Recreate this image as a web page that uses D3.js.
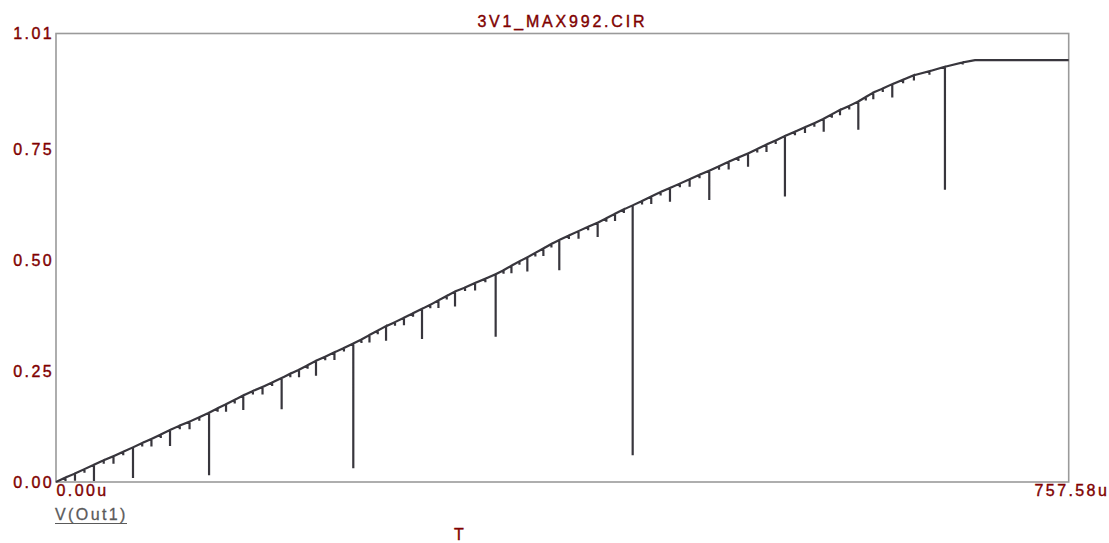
<!DOCTYPE html>
<html>
<head>
<meta charset="utf-8">
<script src="https://cdn.jsdelivr.net/npm/d3@7"></script>
<style>
  body { margin: 0; background: #fff; }
  svg { display: block; }
  text { font-family: "Liberation Sans", Arial, sans-serif; }
</style>
</head>
<body>
<svg id="chart"></svg>
<script>
const title = "3V1_MAX992.CIR";
const traceName = "V(Out1)";
const xAxisName = "T";

// axis ranges and tick labels
const timeDomain = [0, 757.58];
const voltDomain = [0, 1.01];
const yTicks = [0, 0.25, 0.5, 0.75, 1.01];
const yTickLabels = ["0.00", "0.25", "0.50", "0.75", "1.01"];
const xTicks = [0, 757.58];
const xTickLabels = ["0.00u", "757.58u"];

// ramp start and the flat part at the end (us, V)
const rampTime = [0, 687.5, 757.58];
const rampLevel = [0, 0.95, 0.95];

// glitches at the code transitions: time (us), level before the spike, bottom of the spike
const glitchTime = [
  7.1, 14.2, 21.3, 28.4, 35.7, 43.0, 50.3, 57.6, 64.5, 71.4,
  78.4, 85.3, 92.6, 99.9, 107.2, 114.5, 120.9, 127.2, 133.7, 140.1,
  147.3, 154.5, 161.7, 168.8, 175.3, 181.8, 188.2, 194.5, 201.4, 208.3,
  215.4, 222.4, 228.5, 234.5, 240.7, 246.9, 253.6, 260.3, 267.1, 273.8,
  280.0, 286.1, 292.3, 298.5, 306.0, 313.5, 321.2, 328.9, 334.8, 340.7,
  346.7, 352.6, 358.6, 364.6, 370.6, 376.5, 383.7, 390.9, 398.1, 405.2,
  411.7, 418.2, 424.8, 431.4, 438.4, 445.3, 452.3, 459.3, 466.7, 474.0,
  481.4, 488.7, 496.0, 503.2, 510.5, 517.7, 524.6, 531.5, 538.4, 545.3,
  552.8, 560.3, 567.3, 574.3, 580.4, 586.5, 593.4, 600.2, 605.8, 611.4,
  618.5, 625.6, 633.7, 641.8, 653.4, 665.0, 678.3
];
const glitchTop = [
  0.010, 0.019, 0.029, 0.039, 0.049, 0.058, 0.068, 0.078, 0.088, 0.097,
  0.107, 0.117, 0.127, 0.136, 0.146, 0.156, 0.166, 0.175, 0.185, 0.195,
  0.205, 0.214, 0.224, 0.234, 0.244, 0.253, 0.263, 0.273, 0.282, 0.292,
  0.302, 0.312, 0.321, 0.331, 0.341, 0.351, 0.360, 0.370, 0.380, 0.390,
  0.399, 0.409, 0.419, 0.429, 0.438, 0.448, 0.458, 0.468, 0.477, 0.487,
  0.497, 0.506, 0.516, 0.526, 0.536, 0.545, 0.555, 0.565, 0.575, 0.584,
  0.594, 0.604, 0.614, 0.623, 0.633, 0.643, 0.653, 0.662, 0.672, 0.682,
  0.692, 0.701, 0.711, 0.721, 0.731, 0.740, 0.750, 0.760, 0.769, 0.779,
  0.789, 0.799, 0.808, 0.818, 0.828, 0.838, 0.847, 0.857, 0.867, 0.877,
  0.886, 0.896, 0.906, 0.916, 0.925, 0.935, 0.945
];
const glitchLow = [
  0.002, 0.003, 0.021, 0.002, 0.041, 0.041, 0.060, 0.009, 0.080, 0.080,
  0.099, 0.081, 0.119, 0.119, 0.138, 0.015, 0.158, 0.158, 0.177, 0.162,
  0.197, 0.197, 0.216, 0.164, 0.236, 0.236, 0.255, 0.239, 0.274, 0.275,
  0.294, 0.031, 0.313, 0.314, 0.333, 0.318, 0.352, 0.353, 0.372, 0.322,
  0.391, 0.392, 0.411, 0.395, 0.430, 0.431, 0.450, 0.327, 0.469, 0.470,
  0.489, 0.474, 0.508, 0.509, 0.528, 0.477, 0.547, 0.548, 0.567, 0.552,
  0.586, 0.588, 0.606, 0.060, 0.625, 0.626, 0.645, 0.631, 0.664, 0.665,
  0.684, 0.635, 0.703, 0.704, 0.723, 0.710, 0.742, 0.743, 0.761, 0.643,
  0.781, 0.786, 0.800, 0.789, 0.820, 0.826, 0.839, 0.793, 0.859, 0.862,
  0.878, 0.866, 0.898, 0.904, 0.917, 0.658, 0.940
];

const width = 1109;
const height = 543;
const margin = { top: 33.5, right: 40.3, bottom: 61, left: 56 };
const red = "#800000";

const svg = d3.select("#chart").attr("width", width).attr("height", height);

const x = d3
  .scaleLinear()
  .domain(timeDomain)
  .range([margin.left, width - margin.right]);

const y = d3
  .scaleLinear()
  .domain(voltDomain)
  .range([height - margin.bottom, margin.top]);

// plot frame
svg
  .append("rect")
  .attr("x", x(timeDomain[0]))
  .attr("y", y(voltDomain[1]))
  .attr("width", x(timeDomain[1]) - x(timeDomain[0]))
  .attr("height", y(voltDomain[0]) - y(voltDomain[1]))
  .attr("fill", "none")
  .attr("stroke", "#9a9a9a")
  .attr("stroke-width", 1.6);

// y axis labels only, no tick lines
const yAxis = d3
  .axisLeft(y)
  .tickValues(yTicks)
  .tickSize(0)
  .tickPadding(2)
  .tickFormat((d, i) => yTickLabels[i]);

const gy = svg.append("g").attr("transform", `translate(${margin.left}, 0)`).call(yAxis);
gy.select(".domain").remove();
gy.selectAll("text")
  .attr("fill", red)
  .attr("stroke", red)
  .attr("stroke-width", 0.4)
  .attr("font-size", "16px")
  .attr("letter-spacing", "2.4px")
  .attr("font-family", "Liberation Sans, Arial, sans-serif");

const xAxis = d3
  .axisBottom(x)
  .tickValues(xTicks)
  .tickSize(0)
  .tickPadding(3)
  .tickFormat((d, i) => xTickLabels[i]);

const gx = svg
  .append("g")
  .attr("transform", `translate(0, ${height - margin.bottom})`)
  .call(xAxis);
gx.select(".domain").remove();
gx.selectAll("text")
  .attr("fill", red)
  .attr("stroke", red)
  .attr("stroke-width", 0.4)
  .attr("font-size", "16px")
  .attr("letter-spacing", "2.4px")
  .attr("font-family", "Liberation Sans, Arial, sans-serif")
  .attr("text-anchor", (d, i) => (i === 0 ? "start" : "end"))
  .attr("dx", (d, i) => (i === 0 ? 0 : 40));

// trace: ramp with the glitch spikes
let points = [[rampTime[0], rampLevel[0]]];
glitchTime.forEach((t, i) => {
  points.push([t, glitchTop[i]]);
  points.push([t, glitchLow[i]]);
  points.push([t, glitchTop[i]]);
});
for (let i = 1; i < rampTime.length; i++) {
  points.push([rampTime[i], rampLevel[i]]);
}

const line = d3
  .line()
  .x((d) => x(d[0]))
  .y((d) => y(d[1]));

svg
  .append("path")
  .datum(points)
  .attr("d", line)
  .attr("fill", "none")
  .attr("stroke", "#38363d")
  .attr("stroke-width", 2.2)
  .attr("stroke-linejoin", "miter");

// title
svg
  .append("text")
  .attr("x", (x(timeDomain[0]) + x(timeDomain[1])) / 2)
  .attr("y", 27)
  .attr("text-anchor", "middle")
  .attr("fill", red)
  .attr("stroke", red)
  .attr("stroke-width", 0.4)
  .attr("font-size", "16px")
  .attr("letter-spacing", "2.8px")
  .text(title);

// trace name, underlined
svg
  .append("text")
  .attr("x", margin.left - 1)
  .attr("y", 520)
  .attr("fill", "#5a5a5a")
  .attr("stroke", "#5a5a5a")
  .attr("stroke-width", 0.3)
  .attr("font-size", "16px")
  .attr("letter-spacing", "2.4px")
  .text(traceName);
svg
  .append("line")
  .attr("x1", margin.left - 1)
  .attr("x2", margin.left - 1 + 72)
  .attr("y1", 523.5)
  .attr("y2", 523.5)
  .attr("stroke", "#5a5a5a")
  .attr("stroke-width", 1);

svg
  .append("text")
  .attr("x", 459)
  .attr("y", 540)
  .attr("text-anchor", "middle")
  .attr("fill", red)
  .attr("stroke", red)
  .attr("stroke-width", 0.4)
  .attr("font-size", "16px")
  .text(xAxisName);
</script>
</body>
</html>
